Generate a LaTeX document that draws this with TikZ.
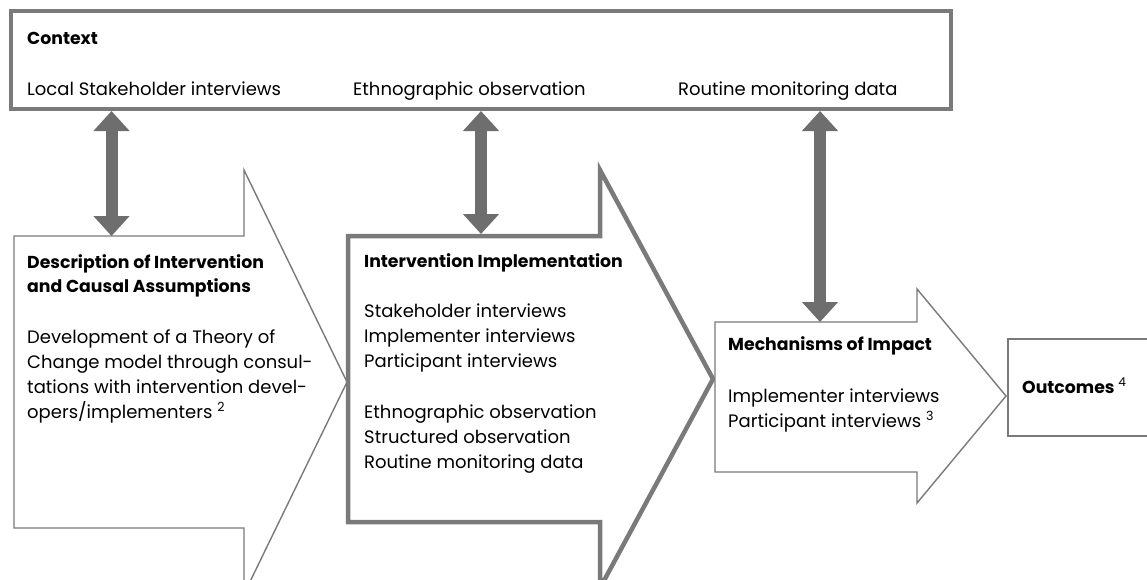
\documentclass[tikz,border=0pt]{standalone}
\usepackage{fontspec}
\setmainfont{Poppins}
\usetikzlibrary{arrows.meta}
\definecolor{linegray}{HTML}{7A7A7A}
\definecolor{arrowgray}{HTML}{6E6E6E}
\tikzset{
  thinshape/.style={draw=linegray, line width=1.4pt, line join=miter, fill=white},
  thickshape/.style={draw=linegray, line width=4.5pt, line join=miter, fill=white},
  txt/.style={anchor=base west, inner sep=0pt, font=\fontsize{18}{21}\selectfont},
  ttl/.style={anchor=base west, inner sep=0pt, font=\fontsize{17.3}{20}\selectfont\bfseries},
  dblarrow/.style={draw=arrowgray, line width=12pt,
    {Triangle[width=35pt,length=20pt]}-{Triangle[width=35pt,length=20pt]}}
}
\begin{document}
\begin{tikzpicture}[x=1pt,y=-1pt]
\useasboundingbox (0,0) rectangle (1147,579);
\clip (0,0) rectangle (1147,579);
% context box
\draw[thickshape] (11,11) rectangle (951,109);
\node[ttl] (ctx) at (27,44) {Context};
\node[txt] (c1) at (27,95) {Local Stakeholder interviews};
\node[txt] (c2) at (353,95) {Ethnographic observation};
\node[txt] (c3) at (678,95) {Routine monitoring data};
% arrow 1
\draw[thinshape] (14,236) -- (244,236) -- (244,170) -- (347,382) -- (244,594) -- (244,528) -- (14,528) -- cycle;
\node[ttl] (a1t) at (27,268) {Description of Intervention};
\node[ttl] (a1t2) at (27,292) {and Causal Assumptions};
\node[txt] (a1b1) at (27,343) {Development of a Theory of};
\node[txt] (a1b2) at (27,368) {Change model through consul-};
\node[txt] (a1b3) at (27,393) {tations with intervention devel-};
\node[txt] (a1b4) at (27,418) {opers/implementers \textsuperscript{2}};
% arrow 2
\draw[thickshape] (348,236) -- (600,236) -- (600,170) -- (713,379) -- (600,588) -- (600,522) -- (348,522) -- cycle;
\node[ttl] (a2t) at (364,267) {Intervention Implementation};
\node[txt] (a2b1) at (364,317) {Stakeholder interviews};
\node[txt] (a2b2) at (364,342) {Implementer interviews};
\node[txt] (a2b3) at (364,367) {Participant interviews};
\node[txt] (a2b4) at (364,418) {Ethnographic observation};
\node[txt] (a2b5) at (364,443) {Structured observation};
\node[txt] (a2b6) at (364,468) {Routine monitoring data};
% arrow 3
\draw[thinshape] (715,322) -- (917,322) -- (917,289) -- (1006,396) -- (917,503) -- (917,472) -- (715,472) -- cycle;
\node[ttl] (a3t) at (728,350) {Mechanisms of Impact};
\node[txt] (a3b1) at (728,402) {Implementer interviews};
\node[txt] (a3b2) at (728,427) {Participant interviews \textsuperscript{3}};
% outcomes
\draw[thinshape] (1008,339) rectangle (1152,436);
\node[ttl] (out) at (1022,393) {Outcomes \textsuperscript{\mdseries 4}};
% connectors
\coordinate (t1) at (111.5,111);
\coordinate (b1) at (111.5,236);
\coordinate (t2) at (481,111);
\coordinate (b2) at (481,234);
\coordinate (t3) at (820,111);
\coordinate (b3) at (820,322);
\draw[dblarrow] (t1) -- (b1);
\draw[dblarrow] (t2) -- (b2);
\draw[dblarrow] (t3) -- (b3);
\end{tikzpicture}
\end{document}
